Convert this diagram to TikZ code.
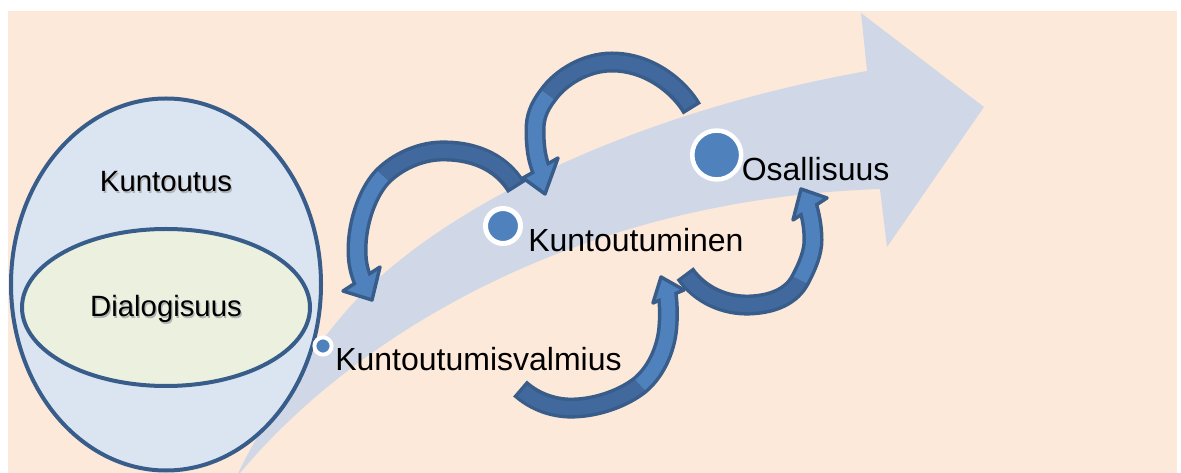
\documentclass[tikz,border=0pt]{standalone}
\usepackage{fontspec}
\setmainfont{Liberation Sans}
\usetikzlibrary{shapes.geometric}
\definecolor{peach}{HTML}{FDE9D9}
\definecolor{ellblue}{HTML}{DBE5F1}
\definecolor{ellgreen}{HTML}{EBF1DE}
\definecolor{bandblue}{HTML}{D0D8E8}
\definecolor{outl}{HTML}{385D8A}
\definecolor{lightarr}{HTML}{4F81BD}
\definecolor{darkarr}{HTML}{42699D}
\begin{document}
\begin{tikzpicture}[x=0.75pt,y=-0.75pt,
  shaftout/.style={draw=outl,line width=15.75pt},
  shaftin/.style={line width=10.5pt},
  headstyle/.style={fill=lightarr,draw=outl,line width=2.6pt,line join=round},
  dot/.style={circle,fill=lightarr,draw=white,inner sep=0pt},
  lab/.style={inner sep=0pt,font=\fontsize{24}{28}\selectfont,text=black},
  elab/.style={inner sep=0pt,font=\fontsize{22}{26}\selectfont,anchor=base},
  shadowtxt/.style={elab,text=black!30}]
\useasboundingbox (0,0) rectangle (1181,473);
\clip (0,0) rectangle (1181,473);
\fill[white] (0,0) rectangle (1181,473);
\fill[peach] (8,11) rectangle (1177,473);
% big band arrow
\fill[bandblue] (236,478) .. controls (262,420) and (317,344) .. (347,310)
  .. controls (430,215) and (620,115) .. (867,71) -- (861,13) -- (984,107)
  -- (887,247) -- (880,189) .. controls (560,200) and (340,350) .. (236,478) -- cycle;
% ellipses
\node[ellipse,draw=outl,line width=3pt,fill=ellblue,minimum width=232.5pt,minimum height=279pt,inner sep=0pt] (outer) at (166,284.5) {};
\node[ellipse,draw=outl,line width=3pt,fill=ellgreen,minimum width=216pt,minimum height=117.75pt,inner sep=0pt] (inner) at (166,307.5) {};
\node[shadowtxt] (kshadow) at (167.3,193.3) {Kuntoutus};
\node[elab] (kuntoutus) at (166,192) {Kuntoutus};
\node[shadowtxt] (dshadow) at (167.3,318.3) {Dialogisuus};
\node[elab] (dialog) at (166,317) {Dialogisuus};
% dots
\node[dot,minimum size=12.9pt,line width=2.9pt] (d1) at (323,346) {};
\node[dot,minimum size=26.25pt,line width=3.75pt] (d2) at (503,226) {};
\node[dot,minimum size=36.7pt,line width=3.4pt] (d3) at (716.7,155) {};
% labels
\node[lab,anchor=base west] (kv) at (335,371) {Kuntoutumisvalmius};
\node[lab,anchor=base west] (km) at (528,252) {Kuntoutuminen};
\node[lab,anchor=base west] (os) at (741.5,181) {Osallisuus};
% arrow B
\coordinate (b0) at (692,109);
\coordinate (b1) at (612,62);
\coordinate (b2) at (548,95);
\coordinate (b3) at (535,130);
\coordinate (b4) at (542,172);
\draw[shaftout] (b0) .. controls (680,88) and (650,62) .. (b1) .. controls (585,62) and (560,78) .. (b2)
  .. controls (538,108) and (535,118) .. (b3) .. controls (535,148) and (537,160) .. (b4);
\draw[headstyle] (523,178) -- (545,194) -- (558,158) -- cycle;
\draw[shaftin,darkarr,shorten <=2.6pt] (b0) .. controls (680,88) and (650,62) .. (b1) .. controls (585,62) and (560,78) .. (b2);
\draw[shaftin,lightarr] (b2) .. controls (538,108) and (535,118) .. (b3) .. controls (535,148) and (537,160) .. (b4);
% arrow A
\coordinate (a0) at (516.5,187.5);
\coordinate (a1) at (440,151);
\coordinate (a2) at (383,176);
\coordinate (a3) at (357,250);
\coordinate (a4) at (363.6,282.4);
\draw[shaftout] (a0) .. controls (500,160) and (470,150) .. (a1) .. controls (419,151.7) and (397,162) .. (a2)
  .. controls (369,190) and (357,220) .. (a3) .. controls (357,265) and (360,274) .. (a4);
\draw[headstyle] (343,291) -- (372,300) -- (380,267) -- cycle;
\draw[shaftin,darkarr,shorten <=2.6pt] (a0) .. controls (500,160) and (470,150) .. (a1) .. controls (419,151.7) and (397,162) .. (a2);
\draw[shaftin,lightarr] (a2) .. controls (369,190) and (357,220) .. (a3) .. controls (357,265) and (360,274) .. (a4);
% arrow C
\coordinate (c0) at (520,388.5);
\coordinate (c1) at (575,408);
\coordinate (c2) at (640,385);
\coordinate (c3) at (668,325);
\coordinate (c4) at (667,292.8);
\draw[shaftout] (c0) .. controls (535,402) and (555,409) .. (c1) .. controls (600,407) and (625,397) .. (c2)
  .. controls (658,370) and (667,345) .. (c3) .. controls (669,312) and (668,300) .. (c4);
\draw[headstyle] (653,303) -- (661,277) -- (684,290) -- cycle;
\draw[shaftin,darkarr,shorten <=2.6pt] (c0) .. controls (535,402) and (555,409) .. (c1) .. controls (600,407) and (625,397) .. (c2);
\draw[shaftin,lightarr] (c2) .. controls (658,370) and (667,345) .. (c3) .. controls (669,312) and (668,300) .. (c4);
% arrow D
\coordinate (e0) at (685,273.5);
\coordinate (e1) at (750,305);
\coordinate (e2) at (800,280);
\coordinate (e3) at (813,240);
\coordinate (e4) at (807.8,205.6);
\draw[shaftout] (e0) .. controls (700,295) and (725,306) .. (e1) .. controls (775,304) and (792,295) .. (e2)
  .. controls (808,265) and (813,252) .. (e3) .. controls (813,225) and (810,214) .. (e4);
\draw[headstyle] (793,220) -- (801,189) -- (827,198) -- cycle;
\draw[shaftin,darkarr,shorten <=2.6pt] (e0) .. controls (700,295) and (725,306) .. (e1) .. controls (775,304) and (792,295) .. (e2);
\draw[shaftin,lightarr] (e2) .. controls (808,265) and (813,252) .. (e3) .. controls (813,225) and (810,214) .. (e4);
\end{tikzpicture}
\end{document}
